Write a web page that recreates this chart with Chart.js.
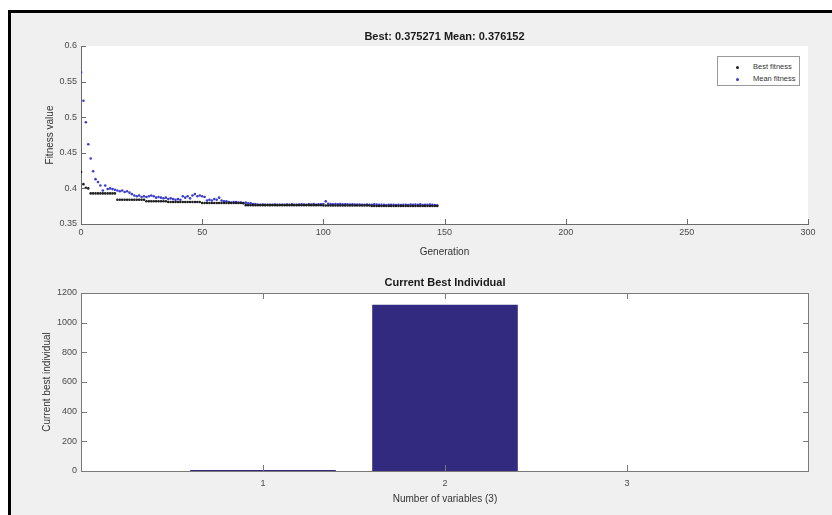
<!DOCTYPE html>
<html>
<head>
<meta charset="utf-8">
<script src="https://cdn.jsdelivr.net/npm/chart.js@4.4.0/dist/chart.umd.min.js"></script>
<style>
  html, body { margin: 0; padding: 0; background: #fff; }
  body { width: 832px; height: 515px; position: relative; overflow: hidden; font-family: "Liberation Sans", Arial, sans-serif; }
  #fig { position: absolute; left: 8px; top: 10px; width: 840px; height: 520px; background: #f0f0f0; border-left: 3px solid #000; border-top: 3px solid #000; }
  canvas { position: absolute; left: 0; }
  #fitness { top: 0; }
  #individual { top: 260px; }
  #legend { position: absolute; left: 717px; top: 56px; width: 83px; height: 30px; box-sizing: border-box; border: 1px solid #9a9a9a; background: #fff; font-size: 7.5px; color: #333; padding-top: 4px; z-index: 2; }
  #legend .row { position: relative; height: 12.3px; line-height: 12.3px; padding-left: 35px; }
  #legend .dot { position: absolute; left: 18px; top: 5px; width: 3px; height: 3px; border-radius: 50%; }
</style>
</head>
<body>
<div id="fig"></div>
<canvas id="fitness" width="832" height="260"></canvas>
<canvas id="individual" width="832" height="255"></canvas>
<div id="legend"></div>
<script>
// fitness per generation (gen 0..147)
const bestFitness = [
  0.423, 0.406, 0.401, 0.400, 0.393, 0.393, 0.393, 0.393, 0.393, 0.393,
  0.393, 0.393, 0.393, 0.393, 0.393, 0.384, 0.384, 0.384, 0.384, 0.384,
  0.384, 0.384, 0.384, 0.384, 0.384, 0.384, 0.384, 0.382, 0.382, 0.382,
  0.382, 0.382, 0.382, 0.382, 0.382, 0.382, 0.381, 0.381, 0.381, 0.381,
  0.381, 0.381, 0.381, 0.381, 0.381, 0.381, 0.381, 0.381, 0.381, 0.381,
  0.3795, 0.3795, 0.3795, 0.3795, 0.3795, 0.3795, 0.3795, 0.3795, 0.3795, 0.3795,
  0.3795, 0.3795, 0.3795, 0.3795, 0.3795, 0.3795, 0.3795, 0.3795, 0.3765, 0.3765,
  0.3765, 0.3765, 0.3765, 0.3765, 0.3765, 0.3765, 0.3765, 0.3765, 0.3765, 0.3765,
  0.3765, 0.3765, 0.3765, 0.3765, 0.3765, 0.3765, 0.3765, 0.3765, 0.3765, 0.3765,
  0.3765, 0.3765, 0.3765, 0.3765, 0.3765, 0.3765, 0.3765, 0.3765, 0.3765, 0.3765,
  0.376, 0.376, 0.376, 0.376, 0.376, 0.376, 0.376, 0.376, 0.376, 0.376,
  0.376, 0.376, 0.376, 0.376, 0.376, 0.376, 0.376, 0.376, 0.376, 0.376,
  0.375271, 0.375271, 0.375271, 0.375271, 0.375271, 0.375271, 0.375271, 0.375271, 0.375271, 0.375271,
  0.375271, 0.375271, 0.375271, 0.375271, 0.375271, 0.375271, 0.375271, 0.375271, 0.375271, 0.375271,
  0.375271, 0.375271, 0.375271, 0.375271, 0.375271, 0.375271, 0.375271, 0.375271
];
const meanFitness = [
  0.563, 0.523, 0.493, 0.462, 0.442, 0.424, 0.413, 0.409, 0.404, 0.397,
  0.404, 0.399, 0.400, 0.399, 0.398, 0.397, 0.396, 0.397, 0.395, 0.396,
  0.394, 0.392, 0.390, 0.389, 0.390, 0.388, 0.389, 0.388, 0.389, 0.390,
  0.389, 0.387, 0.388, 0.387, 0.386, 0.387, 0.385, 0.386, 0.385, 0.384,
  0.385, 0.384, 0.389, 0.387, 0.389, 0.386, 0.390, 0.392, 0.389, 0.390,
  0.389, 0.388, 0.383, 0.384, 0.383, 0.385, 0.384, 0.387, 0.383, 0.382,
  0.382, 0.381, 0.380, 0.381, 0.381, 0.380, 0.380, 0.379, 0.380, 0.379,
  0.379, 0.378, 0.378, 0.377, 0.3770, 0.3772, 0.3768, 0.3771, 0.3769, 0.3770,
  0.3773, 0.3768, 0.3770, 0.3771, 0.3769, 0.3772, 0.3770, 0.3775, 0.3771, 0.3769,
  0.3774, 0.3778, 0.3772, 0.3770, 0.3776, 0.3773, 0.3779, 0.3771, 0.3775, 0.3777,
  0.3780, 0.3818, 0.3784, 0.3779, 0.3776, 0.3781, 0.3777, 0.3779, 0.3775, 0.3778,
  0.3776, 0.3774, 0.3777, 0.3773, 0.3772, 0.3774, 0.3771, 0.3770, 0.3773, 0.3769,
  0.3771, 0.3775, 0.3772, 0.3770, 0.3768, 0.3770, 0.3767, 0.3769, 0.3768, 0.3770,
  0.3766, 0.3769, 0.3767, 0.3768, 0.3771, 0.3766, 0.3774, 0.3768, 0.3772, 0.3770,
  0.3775, 0.3767, 0.3771, 0.3769, 0.3773, 0.3768, 0.3765, 0.376152
];
const genTicks = [0, 50, 100, 150, 200, 250, 300];
const fitTicks = [0.35, 0.4, 0.45, 0.5, 0.55, 0.6];

// current best individual
const variables = [1, 2, 3];
const bestIndividual = [6, 1120, 0];
const indTicks = [0, 200, 400, 600, 800, 1000, 1200];

const FONT = '"Liberation Sans", Arial, sans-serif';

// MATLAB style ticks pointing into the axes, optional full box
const innerTicks = {
  id: 'innerTicks',
  beforeDraw(chart) {
    const a = chart.chartArea, ctx = chart.ctx;
    ctx.save();
    ctx.fillStyle = '#fff';
    ctx.fillRect(a.left, a.top, a.width, a.height);
    ctx.restore();
  },
  afterDraw(chart, args, opts) {
    const { ctx, chartArea: a, scales: { x, y } } = chart;
    const len = opts.len || 5;
    ctx.save();
    ctx.strokeStyle = opts.color || '#666';
    ctx.lineWidth = 1;
    ctx.beginPath();
    x.ticks.forEach(t => {
      const px = Math.round(x.getPixelForValue(t.value)) + 0.5;
      ctx.moveTo(px, a.bottom); ctx.lineTo(px, a.bottom - len);
      if (opts.box) { ctx.moveTo(px, a.top); ctx.lineTo(px, a.top + len); }
    });
    y.ticks.forEach(t => {
      const py = Math.round(y.getPixelForValue(t.value)) + 0.5;
      ctx.moveTo(a.left, py); ctx.lineTo(a.left + len, py);
      if (opts.box) { ctx.moveTo(a.right, py); ctx.lineTo(a.right - len, py); }
    });
    if (opts.box) ctx.rect(Math.round(a.left) + 0.5, Math.round(a.top) + 0.5, Math.round(a.width) - 1, Math.round(a.height));
    ctx.stroke();
    ctx.restore();
  }
};

const fitChart = new Chart(document.getElementById('fitness'), {
  type: 'scatter',
  data: {
    datasets: [{
      label: 'Best fitness',
      data: bestFitness.map((v, i) => ({ x: i, y: v })),
      backgroundColor: '#1e1e1e',
      pointRadius: 1.3,
      pointBorderWidth: 0
    }, {
      label: 'Mean fitness',
      data: meanFitness.map((v, i) => ({ x: i, y: v })),
      backgroundColor: '#3c3cc8',
      pointRadius: 1.3,
      pointBorderWidth: 0
    }]
  },
  options: {
    responsive: false,
    animation: false,
    layout: { padding: { left: 0, right: 24, top: 0, bottom: 0 } },
    plugins: {
      legend: { display: false },
      tooltip: { enabled: false },
      title: {
        display: true,
        fullSize: false,
        text: 'Best: ' + bestFitness[bestFitness.length - 1] + ' Mean: ' + meanFitness[meanFitness.length - 1],
        color: '#1a1a1a',
        font: { family: FONT, size: 11, weight: 'bold' },
        padding: { top: 30.5, bottom: 2.3 }
      },
      innerTicks: { len: 5, color: '#6a6a6a', box: false }
    },
    scales: {
      x: {
        type: 'linear', min: 0, max: 300,
        afterBuildTicks: s => { s.ticks = genTicks.map(v => ({ value: v })); },
        afterFit: s => { s.height = 36; },
        grid: { display: false, drawTicks: false },
        border: { display: true, color: '#6a6a6a' },
        ticks: { color: '#4a4a4a', font: { family: FONT, size: 9 }, padding: 3, maxRotation: 0, autoSkip: false, callback: v => String(v) },
        title: { display: true, text: 'Generation', color: '#333', font: { family: FONT, size: 10 }, padding: { top: 0, bottom: 2 } }
      },
      y: {
        min: 0.35, max: 0.6,
        afterBuildTicks: s => { s.ticks = fitTicks.map(v => ({ value: v })); },
        afterFit: s => { s.width = 81; },
        grid: { display: false, drawTicks: false },
        border: { display: true, color: '#6a6a6a' },
        ticks: { color: '#4a4a4a', font: { family: FONT, size: 9 }, padding: 4, callback: v => String(v) },
        title: { display: true, text: 'Fitness value', color: '#333', font: { family: FONT, size: 10 }, padding: { top: 44, bottom: 0 } }
      }
    }
  },
  plugins: [innerTicks]
});

const legend = document.getElementById('legend');
legend.innerHTML = fitChart.data.datasets.map(d =>
  '<div class="row"><span class="dot" style="background:' + d.backgroundColor + '"></span>' + d.label + '</div>'
).join('');

new Chart(document.getElementById('individual'), {
  type: 'bar',
  data: {
    datasets: [{
      label: 'Current best individual',
      data: bestIndividual.map((v, i) => ({ x: variables[i], y: v })),
      backgroundColor: '#322a7f',
      borderWidth: 0,
      barPercentage: 1,
      categoryPercentage: 0.8
    }]
  },
  options: {
    responsive: false,
    animation: false,
    layout: { padding: { left: 0, right: 23, top: 0, bottom: 0 } },
    plugins: {
      legend: { display: false },
      tooltip: { enabled: false },
      title: {
        display: true,
        fullSize: false,
        text: 'Current Best Individual',
        color: '#1a1a1a',
        font: { family: FONT, size: 11, weight: 'bold' },
        padding: { top: 16.4, bottom: 3.4 }
      },
      innerTicks: { len: 6, color: '#7a7a7a', box: true }
    },
    scales: {
      x: {
        type: 'linear', min: 0, max: variables.length + 1, offset: false,
        afterBuildTicks: s => { s.ticks = variables.map(v => ({ value: v })); },
        afterFit: s => { s.height = 44; },
        grid: { display: false, drawTicks: false },
        border: { display: false },
        ticks: { color: '#4a4a4a', font: { family: FONT, size: 9 }, padding: 7, maxRotation: 0, autoSkip: false, callback: v => String(v) },
        title: { display: true, text: 'Number of variables (' + variables.length + ')', color: '#333', font: { family: FONT, size: 10 }, padding: { top: 0, bottom: 10 } }
      },
      y: {
        min: 0, max: 1200,
        afterBuildTicks: s => { s.ticks = indTicks.map(v => ({ value: v })); },
        afterFit: s => { s.width = 81; },
        grid: { display: false, drawTicks: false },
        border: { display: false },
        ticks: { color: '#4a4a4a', font: { family: FONT, size: 9 }, padding: 4, callback: v => String(v) },
        title: { display: true, text: 'Current best individual', color: '#333', font: { family: FONT, size: 10 }, padding: { top: 41, bottom: 0 } }
      }
    }
  },
  plugins: [innerTicks]
});
</script>
</body>
</html>
